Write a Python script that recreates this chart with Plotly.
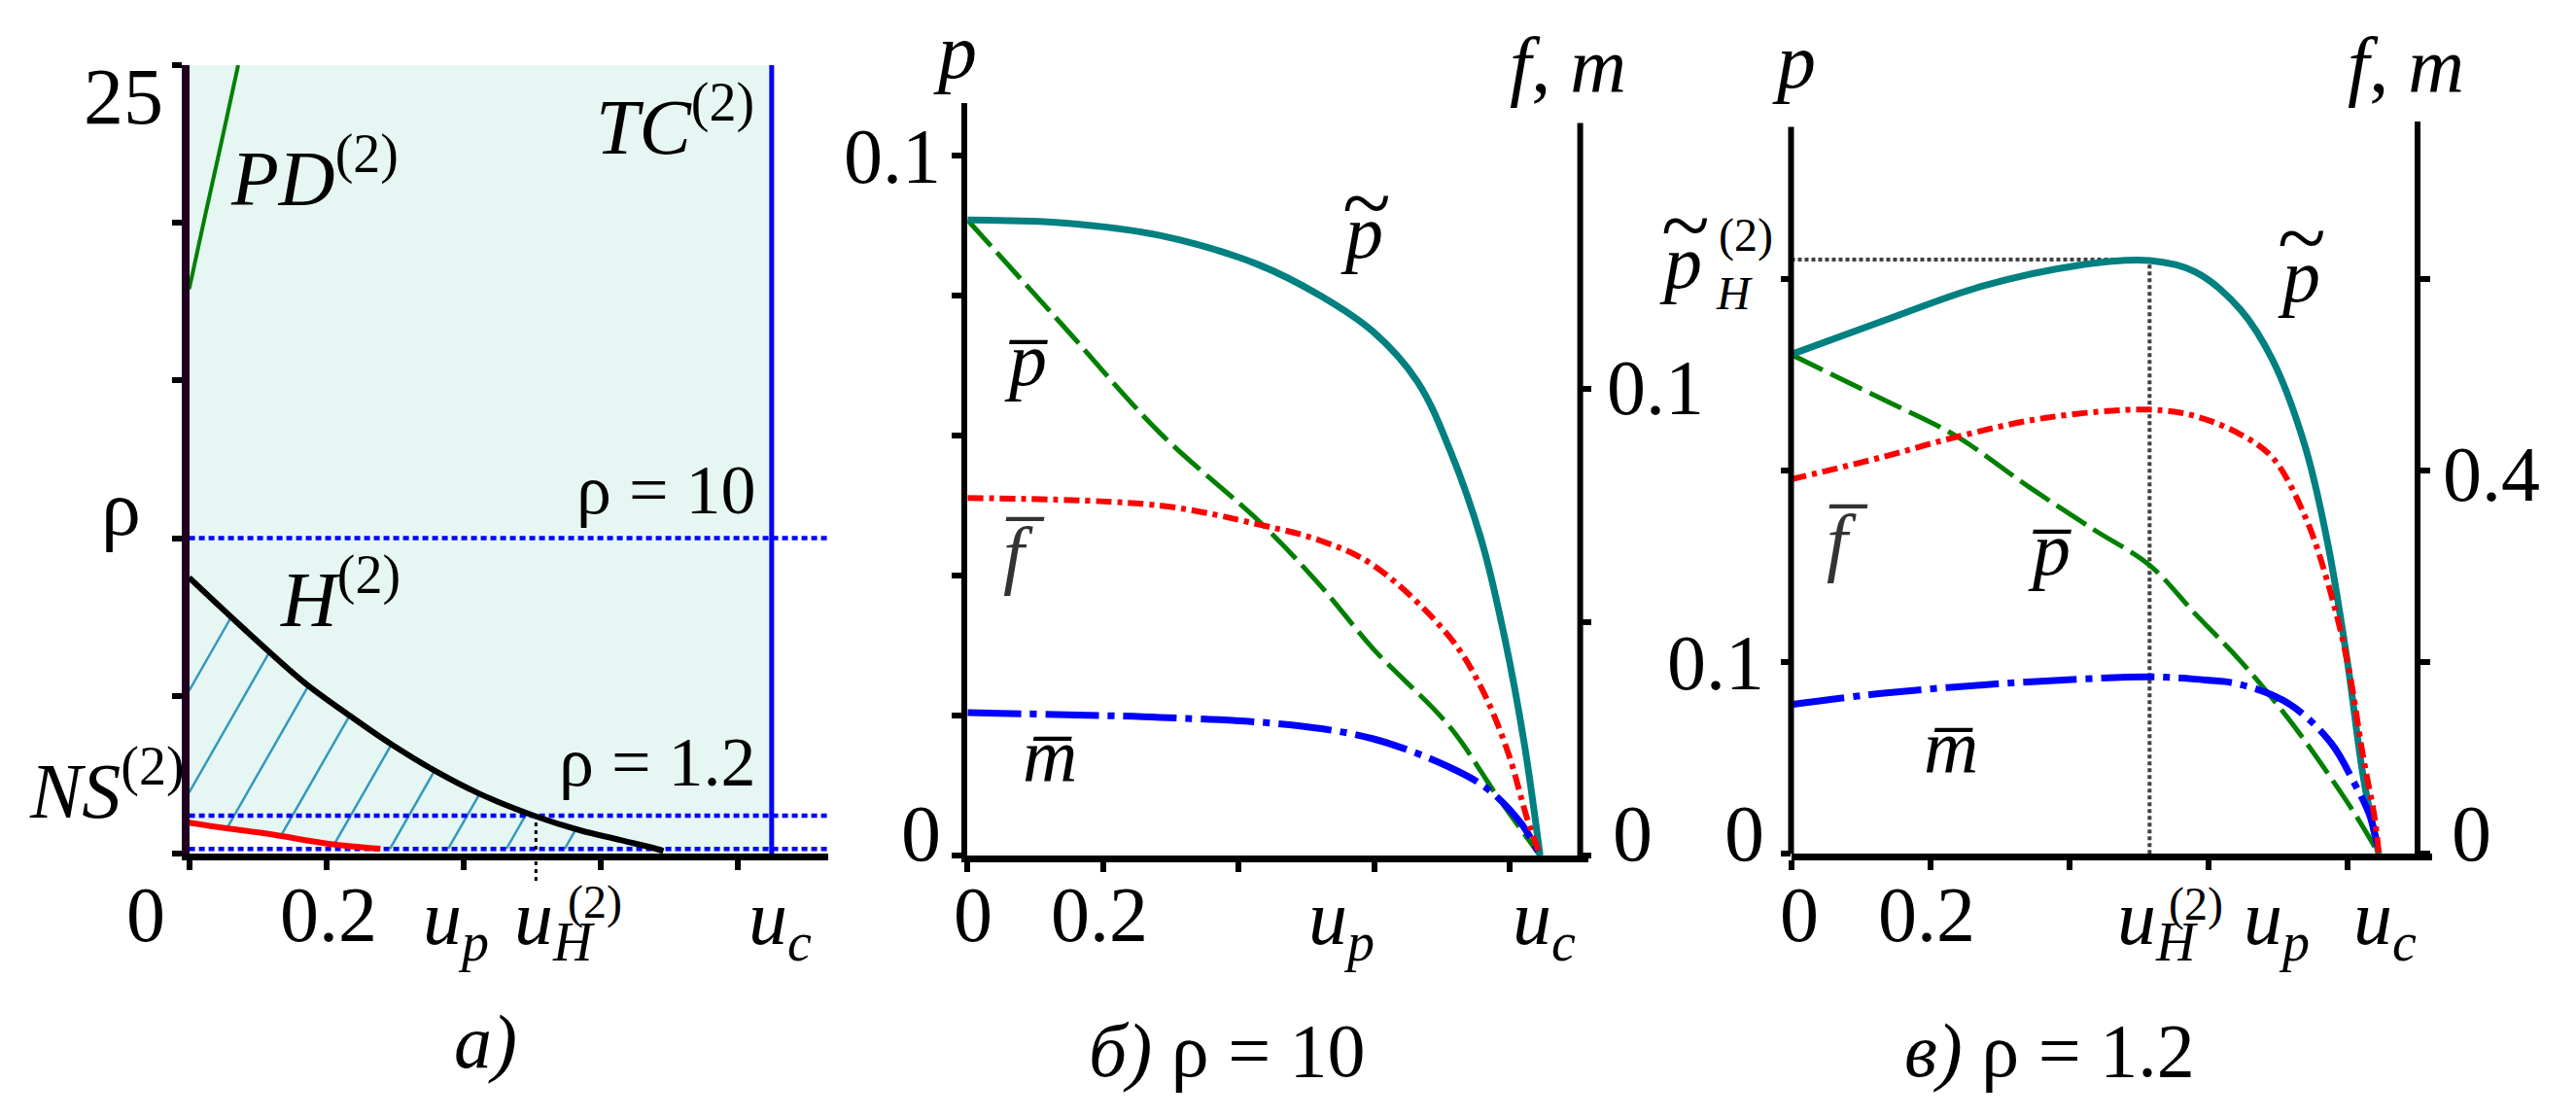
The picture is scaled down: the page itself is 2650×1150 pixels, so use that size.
import numpy as np
import plotly.graph_objects as go

W, H = 2650, 1150
FONT = "Liberation Serif, Times New Roman, serif"

# ---------------- Panel a) : (u, rho) parameter plane ----------------
pd_u   = [0.0, 0.024, 0.048, 0.0715]
pd_rho = [17.9, 20.3, 22.65, 25.0]
h_u    = [0.0, 0.0545, 0.1136, 0.1703, 0.2318, 0.2932, 0.3594, 0.4233, 0.506, 0.570, 0.631, 0.681, 0.692]
h_rho  = [8.75, 7.64, 6.46, 5.385, 4.41, 3.49, 2.615, 1.90, 1.18, 0.74, 0.42, 0.154, 0.08]
ns_u   = [0.0, 0.055, 0.118, 0.2035, 0.279]
ns_rho = [0.98, 0.80, 0.615, 0.31, 0.154]
rho_levels = [10.0, 1.2, 0.15]
u_c = 0.85
u_H_a = 0.506
rho_H_a = 1.2
a_xticks = [0, 0.2, 0.4, 0.6, 0.8]
a_yticks = [0, 5, 10, 15, 20, 25]

# ---------------- Panel b) rho = 10 ----------------
b_pt_u = [0, 0.14, 0.2837, 0.4271, 0.5204, 0.599, 0.664, 0.7117, 0.7595, 0.793, 0.8217, 0.845]
b_pt_p = [0.0908, 0.0904, 0.0886, 0.0845, 0.0800, 0.0748, 0.0677, 0.0580, 0.0447, 0.0310, 0.0160, 0.0]
b_pb_u = [0, 0.14, 0.2837, 0.434, 0.5204, 0.599, 0.7117, 0.783, 0.845]
b_pb_p = [0.0908, 0.0758, 0.0604, 0.0474, 0.0386, 0.0295, 0.0184, 0.0083, 0.0]
b_f_u  = [0, 0.2837, 0.434, 0.5204, 0.599, 0.7117, 0.7595, 0.7977, 0.8264, 0.845]
b_f_v  = [0.0766, 0.0750, 0.0708, 0.0675, 0.0622, 0.0468, 0.0356, 0.0221, 0.0077, 0.0]
b_m_u  = [0, 0.2837, 0.475, 0.599, 0.7117, 0.769, 0.817, 0.845]
b_m_v  = [0.0306, 0.0296, 0.0280, 0.0250, 0.0189, 0.0141, 0.0069, 0.0]
b_xticks  = [0, 0.2, 0.4, 0.6, 0.8]
b_yticks  = [0, 0.02, 0.04, 0.06, 0.08, 0.1]
b_y2ticks = [0, 0.05, 0.1]

# ---------------- Panel c) rho = 1.2 ----------------
c_pt_u = [0, 0.1335, 0.2732, 0.413, 0.5155, 0.581, 0.646, 0.6925, 0.739, 0.7717, 0.7997, 0.823, 0.845]
c_pt_p = [0.2607, 0.2784, 0.2962, 0.3072, 0.3097, 0.3038, 0.2842, 0.2577, 0.2128, 0.1619, 0.1007, 0.0395, 0.0]
c_pb_u = [0, 0.1335, 0.236, 0.343, 0.4363, 0.5155, 0.581, 0.646, 0.716, 0.7764, 0.8137, 0.845]
c_pb_p = [0.2607, 0.237, 0.2184, 0.1913, 0.1690, 0.1507, 0.1253, 0.1007, 0.0701, 0.0395, 0.0191, 0.0]
c_f_u  = [0, 0.1335, 0.236, 0.3664, 0.5155, 0.581, 0.646, 0.6925, 0.739, 0.7717, 0.7997, 0.823, 0.839, 0.845]
c_f_v  = [0.391, 0.4147, 0.435, 0.4553, 0.4638, 0.457, 0.438, 0.4135, 0.3523, 0.283, 0.2013, 0.0994, 0.038, 0.0]
c_m_u  = [0, 0.1335, 0.2732, 0.413, 0.5155, 0.581, 0.646, 0.716, 0.7764, 0.809, 0.833, 0.845]
c_m_v  = [0.1558, 0.1677, 0.1762, 0.1823, 0.1847, 0.1823, 0.1768, 0.1565, 0.1157, 0.0749, 0.038, 0.0]
c_uH = 0.5155
c_pH = 0.3102
c_xticks  = [0, 0.2, 0.4, 0.6, 0.8]
c_yticks  = [0, 0.1, 0.2, 0.3]
c_y2ticks = [0, 0.2, 0.4, 0.6]

# ---------------- colours / styles ----------------
TEAL, GREEN, RED, BLUE = "#008080", "#008000", "#ff0000", "#0000ff"
FILL, HATCH = "#e6f6f3", "#3399bb"


def X(px):
    return px / W


def Y(px):
    return 1 - px / H


fig = go.Figure()

# ---- panel a traces ----
fig.add_trace(go.Scatter(x=ns_u, y=ns_rho, mode="lines", line=dict(width=0, color="rgba(0,0,0,0)", shape="spline"),
                         fill="tozeroy", fillcolor="white", xaxis="x", yaxis="y", hoverinfo="skip"))
hatch_slope = 38.0
hatch_start, hatch_step, hatch_n = -0.136, 0.085, 9
uu = np.linspace(0, 0.75, 4000)
upper = np.interp(uu, h_u, h_rho)
lower = np.maximum(np.interp(uu, ns_u, ns_rho, right=0.0), min(rho_levels))
hx, hy = [], []
for k in range(hatch_n):
    u0 = hatch_start + k * hatch_step
    line = hatch_slope * (uu - u0)
    ok = (line >= lower) & (line <= upper)
    if ok.any():
        idx = np.where(ok)[0]
        i0, i1 = idx[0], idx[-1]
        hx += [uu[i0], uu[i1], None]
        hy += [line[i0], line[i1], None]
fig.add_trace(go.Scatter(x=hx, y=hy, mode="lines", line=dict(color=HATCH, width=2.5), xaxis="x", yaxis="y", hoverinfo="skip"))
for r in rho_levels:
    fig.add_trace(go.Scatter(x=[0, 0.9325], y=[r, r], mode="lines",
                             line=dict(color=BLUE, width=4.5, dash="6px,4px"), xaxis="x", yaxis="y"))
fig.add_trace(go.Scatter(x=[u_c, u_c], y=[0, 25], mode="lines", line=dict(color=BLUE, width=5), xaxis="x", yaxis="y"))
fig.add_trace(go.Scatter(x=pd_u, y=pd_rho, mode="lines", line=dict(color=GREEN, width=4, shape="spline"), xaxis="x", yaxis="y"))
fig.add_trace(go.Scatter(x=h_u, y=h_rho, mode="lines", line=dict(color="black", width=6, shape="spline"), xaxis="x", yaxis="y"))
fig.add_trace(go.Scatter(x=ns_u, y=ns_rho, mode="lines", line=dict(color=RED, width=6, shape="spline"), xaxis="x", yaxis="y"))

# ---- panel b traces ----
fig.add_trace(go.Scatter(x=b_m_u, y=b_m_v, mode="lines", line=dict(color=BLUE, width=7, dash="55px,9px,7px,9px", shape="spline"), xaxis="x2", yaxis="y3"))
fig.add_trace(go.Scatter(x=b_f_u, y=b_f_v, mode="lines", line=dict(color=RED, width=6, dash="16px,6px,5px,6px", shape="spline"), xaxis="x2", yaxis="y3"))
fig.add_trace(go.Scatter(x=b_pb_u, y=b_pb_p, mode="lines", line=dict(color=GREEN, width=5, dash="36px,9px", shape="spline"), xaxis="x2", yaxis="y2"))
fig.add_trace(go.Scatter(x=b_pt_u, y=b_pt_p, mode="lines", line=dict(color=TEAL, width=7, shape="spline"), xaxis="x2", yaxis="y2"))

# ---- panel c traces ----
fig.add_trace(go.Scatter(x=[0, c_uH], y=[c_pH, c_pH], mode="lines", line=dict(color="#404040", width=4, dash="4px,3px"), xaxis="x3", yaxis="y4"))
fig.add_trace(go.Scatter(x=[c_uH, c_uH], y=[0, c_pH], mode="lines", line=dict(color="#404040", width=4, dash="4px,3px"), xaxis="x3", yaxis="y4"))
fig.add_trace(go.Scatter(x=c_m_u, y=c_m_v, mode="lines", line=dict(color=BLUE, width=7, dash="55px,9px,7px,9px", shape="spline"), xaxis="x3", yaxis="y5"))
fig.add_trace(go.Scatter(x=c_f_u, y=c_f_v, mode="lines", line=dict(color=RED, width=6, dash="16px,6px,5px,6px", shape="spline"), xaxis="x3", yaxis="y5"))
fig.add_trace(go.Scatter(x=c_pb_u, y=c_pb_p, mode="lines", line=dict(color=GREEN, width=5, dash="36px,9px", shape="spline"), xaxis="x3", yaxis="y4"))
fig.add_trace(go.Scatter(x=c_pt_u, y=c_pt_p, mode="lines", line=dict(color=TEAL, width=7, shape="spline"), xaxis="x3", yaxis="y4"))


# ---------------- axes ----------------
def xax(dom, rng, anchor, ticks):
    return dict(domain=[X(dom[0]), X(dom[1])], range=rng, anchor=anchor, showline=True, linewidth=7,
                linecolor="black", ticks="outside", tickvals=ticks, ticklen=10, tickwidth=6, tickcolor="black",
                showticklabels=False, showgrid=False, zeroline=False, fixedrange=True)


def yax(dom, rng, anchor, ticks, showline=True, color="black", lw=6):
    return dict(domain=[Y(dom[0]), Y(dom[1])], range=rng, anchor=anchor, showline=showline, linewidth=lw,
                linecolor=color, ticks="outside", tickvals=ticks, ticklen=10, tickwidth=6, tickcolor="black",
                showticklabels=False, showgrid=False, zeroline=False, fixedrange=True)


layout_axes = dict(
    xaxis=xax((186.6, 844), [0, 0.9325], "y", a_xticks),
    yaxis=yax((870, 59), [0, 25], "x", a_yticks, color="#200020", lw=8),
    xaxis2=xax((987.3, 1626), [0, 0.9163], "y2", b_xticks),
    yaxis2=yax((872, 97.6), [0, 0.10756], "x2", b_yticks),
    yaxis3=dict(overlaying="y2", anchor="free", position=X(1617.6), side="right", range=[0, 0.16133],
                showline=False, ticks="outside", tickvals=b_y2ticks, ticklen=10, tickwidth=6, tickcolor="black",
                showticklabels=False, showgrid=False, zeroline=False, fixedrange=True),
    xaxis3=xax((1834.5, 2494), [0, 0.9217], "y4", c_xticks),
    yaxis4=yax((870.2, 116.7), [0, 0.38249], "x3", c_yticks, showline=False),
    yaxis5=dict(overlaying="y4", anchor="free", position=X(2479.2), side="right", range=[0, 0.76497],
                showline=True, linewidth=6, linecolor="black", ticks="outside", tickvals=c_y2ticks, ticklen=10,
                tickwidth=6, tickcolor="black", showticklabels=False, showgrid=False, zeroline=False, fixedrange=True),
)

ya0, ya1 = Y(870), Y(59)
shapes = [
    dict(type="rect", xref="x", yref="y", x0=0, x1=u_c, y0=0, y1=25, fillcolor=FILL, line=dict(width=0), layer="below"),
    dict(type="line", xref="paper", yref="y3", x0=X(1617.6), x1=X(1617.6), y0=0, y1=0.15696, line=dict(color="black", width=6)),
    dict(type="line", xref="paper", yref="y4", x0=X(1834.5), x1=X(1834.5), y0=0, y1=0.37954, line=dict(color="black", width=6)),
    dict(type="line", xref="x", yref="paper", x0=u_H_a, x1=u_H_a, y0=Y(898), y1=ya0 + rho_H_a / 25 * (ya1 - ya0),
         line=dict(color="black", width=3, dash="4px,4px")),
]


def lab(text, cx, base, size, kind="plain", xa="center", color="black"):
    off = {"plain": 0.3375, "sup": 0.504, "sub": 0.22}[kind]
    return dict(text=text, x=X(cx), y=Y(base - off * size), xref="paper", yref="paper", xanchor=xa,
                yanchor="middle", showarrow=False, font=dict(family=FONT, size=size, color=color))


def tilde(cx, cy, size=92):
    return dict(text="~", x=X(cx), y=Y(cy - 0.08 * size), xref="paper", yref="paper", xanchor="center",
                yanchor="middle", showarrow=False, font=dict(family=FONT, size=size, color="black"))


BAR = "\u0305"
a_xlabels = ["0", "0.2", "<i>u</i><sub><i>p</i></sub>", "<i>u</i><sub><i>H</i></sub>", "<i>u</i><sub><i>c</i></sub>"]
b_xlabels = ["0", "0.2", "<i>u</i><sub><i>p</i></sub>", "<i>u</i><sub><i>c</i></sub>"]
c_xlabels = ["0", "0.2", "<i>u</i><sub><i>H</i></sub>", "<i>u</i><sub><i>p</i></sub>", "<i>u</i><sub><i>c</i></sub>"]

ann = [
    # panel a
    lab("25", 119, 119, 82), lab("ρ", 116, 542, 82),
    lab("<i>PD</i><sup>(2)</sup>", 227, 210, 80, "sup", "left"),
    lab("<i>TC</i><sup>(2)</sup>", 603, 157, 80, "sup", "left"),
    lab("<i>H</i><sup>(2)</sup>", 278, 643, 80, "sup", "left"),
    lab("ρ = 10", 772, 520, 72, xa="right"),
    lab("ρ = 1.2", 772, 800, 72, xa="right"),
    lab("<i>NS</i><sup>(2)</sup>", 20, 840, 80, "sup", "left"),
    lab(a_xlabels[0], 142, 960, 80), lab(a_xlabels[1], 330, 960, 80),
    lab(a_xlabels[2], 425, 960, 80, "sub", "left"),
    lab(a_xlabels[3], 519, 960, 80, "sub", "left"), lab("(2)", 574, 936, 48, xa="left"),
    lab(a_xlabels[4], 760, 960, 80, "sub", "left"),
    lab("<i>a)</i>", 491, 1090, 78),
    # panel b
    lab("<i>p</i>", 974, 72, 80), lab("<i>f</i>, <i>m</i>", 1605, 86, 80),
    lab("0.1", 962, 180, 80, xa="right"), lab("0.1", 1643, 418, 80, xa="left"),
    lab("0", 962, 877, 82, xa="right"), lab("0", 1649, 877, 82, xa="left"),
    lab(b_xlabels[0], 993, 960, 80), lab(b_xlabels[1], 1123, 960, 80),
    lab(b_xlabels[2], 1336, 960, 80, "sub", "left"), lab(b_xlabels[3], 1546, 960, 80, "sub", "left"),
    lab("<i>б)</i> ρ = 10", 1254, 1099, 78),
    lab("<i>p</i>", 1393, 257, 78), tilde(1398, 207),
    lab("<i>p" + BAR + "</i>", 1047, 388, 78),
    lab("<i>f" + BAR + "</i>", 1045, 588, 78, color="#333333"),
    lab("<i>m" + BAR + "</i>", 1072, 796, 78),
    # panel c
    lab("<i>p</i>", 1837, 82, 80), lab("<i>f</i>, <i>m</i>", 2467, 86, 80),
    lab("<i>p</i>", 1721, 288, 78), tilde(1726, 230),
    lab("<i>H</i>", 1755, 310, 48, xa="left"), lab("(2)", 1758, 250, 48, xa="left"),
    lab("0.1", 1809, 701, 80, xa="right"), lab("0", 1809, 877, 82, xa="right"),
    lab("0.4", 2503, 507, 80, xa="left"), lab("0", 2512, 877, 82, xa="left"),
    lab(c_xlabels[0], 1843, 960, 80), lab(c_xlabels[1], 1974, 960, 80),
    lab(c_xlabels[2], 2168, 960, 80, "sub", "left"), lab("(2)", 2221, 938, 48, xa="left"),
    lab(c_xlabels[3], 2298, 960, 80, "sub", "left"), lab(c_xlabels[4], 2411, 960, 80, "sub", "left"),
    lab("<i>в)</i> ρ = 1.2", 2100, 1099, 78),
    lab("<i>p</i>", 2357, 302, 78), tilde(2360, 243),
    lab("<i>f" + BAR + "</i>", 1892, 575, 78, color="#333333"),
    lab("<i>p" + BAR + "</i>", 2100, 583, 78),
    lab("<i>m" + BAR + "</i>", 1999, 787, 78),
]

fig.update_layout(width=W, height=H, margin=dict(l=0, r=0, t=0, b=0), paper_bgcolor="white",
                  plot_bgcolor="rgba(0,0,0,0)", showlegend=False, shapes=shapes, annotations=ann,
                  font=dict(family=FONT), **layout_axes)

fig.write_html("out.html")
